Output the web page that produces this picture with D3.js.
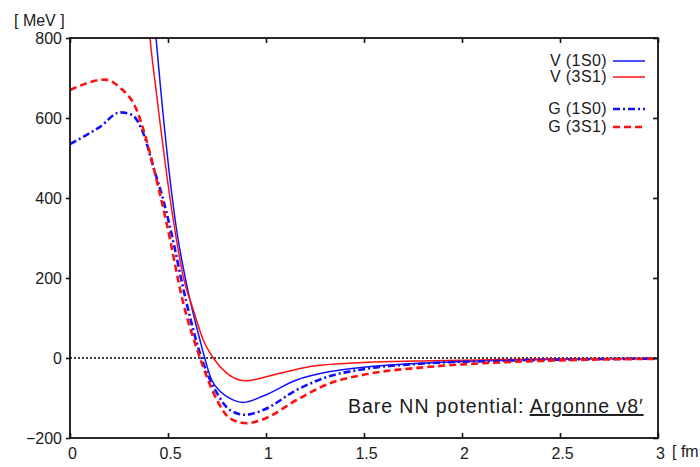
<!DOCTYPE html>
<html>
<head>
<meta charset="utf-8">
<script src="https://cdn.jsdelivr.net/npm/d3@7"></script>
<style>
  body { margin: 0; background: #fff; }
  svg { display: block; }
  text { font-family: "Liberation Sans", Arial, sans-serif; fill: #1a1a1a; }
</style>
</head>
<body>
<svg id="chart" width="700" height="467"></svg>
<script>
// radius r [fm] and potential [MeV]
const v1s0R = [0.42, 0.439, 0.463, 0.544, 0.587, 0.663, 0.723, 0.77, 0.816, 0.884, 0.986, 1.156, 1.327, 1.497, 1.837, 2.2, 2.5, 3.0];
const v1s0V = [905, 800, 670, 320, 203, 45, -55, -85, -101, -111, -95, -55, -34, -23, -12, -6, -3, -1];

const v3s1R = [0.39, 0.408, 0.439, 0.527, 0.578, 0.629, 0.68, 0.731, 0.8, 0.893, 1.071, 1.241, 1.497, 1.837, 2.2, 2.5, 3.0];
const v3s1V = [900, 800, 670, 345, 203, 120, 45, 0, -38, -57, -38, -20, -11, -6.6, -4, -2, -1];

const g1s0R = [0, 0.153, 0.255, 0.315, 0.374, 0.425, 0.476, 0.51, 0.595, 0.663, 0.75, 0.816, 0.893, 0.986, 1.156, 1.327, 1.497, 1.837, 2.2, 2.5, 3.0];
const g1s0V = [535, 578, 614, 608, 562, 478, 395, 328, 137, 12, -88, -130, -142, -130, -80, -45, -28, -13, -7, -4, -1.5];

const g3s1R = [0, 0.179, 0.255, 0.34, 0.39, 0.45, 0.493, 0.578, 0.655, 0.75, 0.816, 0.901, 0.986, 1.156, 1.327, 1.497, 1.837, 2.2, 2.5, 3.0];
const g3s1V = [670, 696, 676, 620, 545, 428, 337, 137, 12, -105, -151, -163, -153, -105, -63, -42, -22, -11, -6, -2];

const xTicks = [0, 0.5, 1, 1.5, 2, 2.5, 3];
const yTicks = [-200, 0, 200, 400, 600, 800];

const series = [
    { name: "V (1S0)", r: v1s0R, v: v1s0V, color: "#1010ff", width: 1.5, dash: null },
    { name: "V (3S1)", r: v3s1R, v: v3s1V, color: "#ff1010", width: 1.5, dash: null },
    { name: "G (1S0)", r: g1s0R, v: g1s0V, color: "#1010ff", width: 2.6, dash: "7,3,2,3" },
    { name: "G (3S1)", r: g3s1R, v: g3s1V, color: "#ff1010", width: 2.6, dash: "7,4" }
];

const svg = d3.select("#chart");
const plotL = 70, plotR = 658, plotT = 38, plotB = 438;

const x = d3.scaleLinear().domain([0, 3]).range([plotL, plotR]);
const y = d3.scaleLinear().domain([-200, 800]).range([plotB, plotT]);

svg.append("defs").append("clipPath").attr("id", "plot")
    .append("rect")
    .attr("x", plotL).attr("y", plotT)
    .attr("width", plotR - plotL).attr("height", plotB - plotT);

// zero line
svg.append("line")
    .attr("x1", x(0)).attr("x2", x(3))
    .attr("y1", y(0)).attr("y2", y(0))
    .attr("stroke", "#000")
    .attr("stroke-width", 1.6)
    .attr("stroke-dasharray", "2,2");

const line = d3.line()
    .x(d => x(d[0]))
    .y(d => y(d[1]))
    .curve(d3.curveMonotoneX);

svg.append("g")
    .attr("clip-path", "url(#plot)")
    .selectAll("path")
    .data(series)
    .enter()
    .append("path")
    .attr("d", s => line(s.r.map((r, i) => [r, s.v[i]])))
    .attr("fill", "none")
    .attr("stroke", s => s.color)
    .attr("stroke-width", s => s.width)
    .attr("stroke-dasharray", s => s.dash);

// frame
svg.append("rect")
    .attr("x", plotL).attr("y", plotT)
    .attr("width", plotR - plotL).attr("height", plotB - plotT)
    .attr("fill", "none")
    .attr("stroke", "#111")
    .attr("stroke-width", 1.8);

// axes: labels and ticks
const xAxis = d3.axisBottom(x).tickValues(xTicks).tickSizeInner(-5).tickSizeOuter(0)
    .tickPadding(10).tickFormat(d3.format("~g"));
const gx = svg.append("g").attr("transform", `translate(0,${plotB})`).call(xAxis);

const xTop = d3.axisTop(x).tickValues(xTicks).tickSizeInner(-5).tickSizeOuter(0).tickFormat("");
const gxt = svg.append("g").attr("transform", `translate(0,${plotT})`).call(xTop);

const yAxis = d3.axisLeft(y).tickValues(yTicks).tickSizeInner(4).tickSizeOuter(0)
    .tickPadding(4).tickFormat(d3.format("~g"));
const gy = svg.append("g").attr("transform", `translate(${plotL},0)`).call(yAxis);

const yRight = d3.axisRight(y).tickValues(yTicks).tickSizeInner(-5).tickSizeOuter(0).tickFormat("");
const gyr = svg.append("g").attr("transform", `translate(${plotR},0)`).call(yRight);

[gx, gxt, gy, gyr].forEach(g => {
    g.select(".domain").remove();
    g.selectAll(".tick line").attr("stroke", "#111").attr("stroke-width", 1.6);
});
gx.selectAll(".tick text").attr("font-size", 16).attr("dx", 2)
    .attr("font-family", "Liberation Sans, Arial, sans-serif").attr("fill", "#1a1a1a");
gy.selectAll(".tick text").attr("font-size", 16).attr("dy", "0.35em")
    .attr("font-family", "Liberation Sans, Arial, sans-serif").attr("fill", "#1a1a1a");

// units
svg.append("text").attr("x", 14).attr("y", 26).attr("font-size", 16).text("[ MeV ]");
svg.append("text").attr("x", 672).attr("y", 457).attr("font-size", 16).text("[ fm");

// legend
const legendY = [61, 77, 109, 127];
const legend = svg.append("g").selectAll("g")
    .data(series)
    .enter()
    .append("g")
    .attr("transform", (d, i) => `translate(0,${legendY[i]})`);

legend.append("text")
    .attr("x", 607)
    .attr("y", 5)
    .attr("text-anchor", "end")
    .attr("font-size", 16)
    .attr("letter-spacing", 0.4)
    .text(d => d.name);

legend.append("line")
    .attr("x1", 613).attr("x2", 645)
    .attr("y1", 0).attr("y2", 0)
    .attr("stroke", d => d.color)
    .attr("stroke-width", d => d.width)
    .attr("stroke-dasharray", d => d.dash);

// annotation
const note = svg.append("text")
    .attr("x", 348).attr("y", 413)
    .attr("font-family", "DejaVu Sans, Verdana, sans-serif")
    .attr("font-size", 19.5)
    .attr("letter-spacing", 0.95)
    .attr("fill", "#111");
note.append("tspan").text("Bare NN potential: ");
note.append("tspan").attr("text-decoration", "underline").text("Argonne v8\u2032");
</script>
</body>
</html>
